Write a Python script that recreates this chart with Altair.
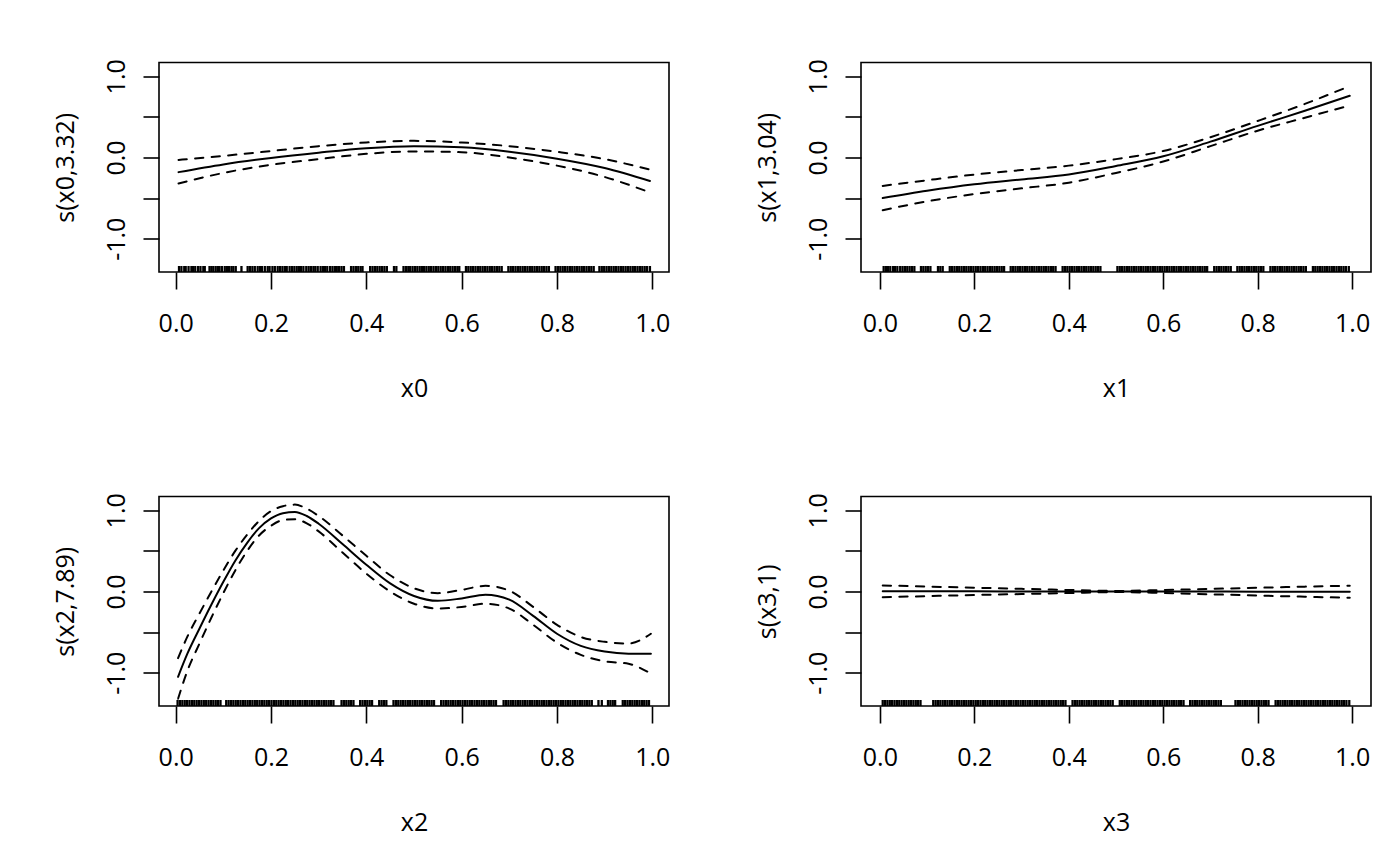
import altair as alt
import pandas as pd

FONT = "Open Sans"
FS = 25

# ---------------- data ----------------
x_ticks = [0.0, 0.2, 0.4, 0.6, 0.8, 1.0]
y_ticks = [-1.0, -0.5, 0.0, 0.5, 1.0]
y_domain = [-1.41, 1.17]

grid11 = [0.006, 0.1, 0.2, 0.3, 0.4, 0.5, 0.6, 0.7, 0.8, 0.9, 0.995]

# s(x0,3.32)
x0_fit = [-0.18, -0.085, -0.005, 0.06, 0.115, 0.14, 0.125, 0.07, -0.015, -0.13, -0.29]
x0_upper = [-0.03, 0.02, 0.08, 0.14, 0.185, 0.205, 0.185, 0.14, 0.07, -0.02, -0.15]
x0_lower = [-0.32, -0.19, -0.09, -0.02, 0.045, 0.075, 0.065, 0.0, -0.1, -0.24, -0.43]

# s(x1,3.04)
x1_fit = [-0.50, -0.41, -0.33, -0.27, -0.21, -0.105, 0.015, 0.195, 0.39, 0.575, 0.76]
x1_upper = [-0.35, -0.28, -0.21, -0.155, -0.10, -0.02, 0.08, 0.25, 0.45, 0.66, 0.88]
x1_lower = [-0.65, -0.54, -0.45, -0.38, -0.31, -0.19, -0.05, 0.14, 0.33, 0.49, 0.64]

# s(x2,7.89)
x2_grid = [0.005, 0.025, 0.05, 0.075, 0.1, 0.125, 0.15, 0.175, 0.2, 0.225, 0.25, 0.275, 0.3,
           0.35, 0.4, 0.45, 0.5, 0.55, 0.6, 0.65, 0.7, 0.75, 0.8, 0.85, 0.9, 0.95, 0.997]
x2_fit = [-1.05, -0.76, -0.455, -0.16, 0.12, 0.38, 0.6, 0.78, 0.9, 0.965, 0.98, 0.93, 0.835,
          0.585, 0.33, 0.10, -0.055, -0.115, -0.085, -0.04, -0.10, -0.30, -0.52, -0.67, -0.74, -0.765, -0.765]
x2_upper = [-0.82, -0.55, -0.27, 0.0, 0.26, 0.5, 0.7, 0.87, 0.99, 1.05, 1.07, 1.02, 0.93,
            0.69, 0.44, 0.2, 0.04, -0.02, 0.02, 0.07, 0.01, -0.19, -0.41, -0.56, -0.62, -0.64, -0.52]
x2_lower = [-1.32, -0.97, -0.64, -0.32, -0.02, 0.26, 0.5, 0.69, 0.81, 0.88, 0.89, 0.84, 0.74,
            0.48, 0.22, 0.0, -0.15, -0.21, -0.19, -0.15, -0.21, -0.41, -0.63, -0.78, -0.86, -0.89, -1.01]

# s(x3,1)
x3_fit = [0.003, 0.002, 0.002, 0.001, 0.0, 0.0, 0.0, -0.001, -0.002, -0.002, -0.003]
x3_upper = [0.075, 0.061, 0.047, 0.033, 0.019, 0.007, 0.018, 0.032, 0.046, 0.06, 0.072]
x3_lower = [-0.07, -0.057, -0.043, -0.031, -0.019, -0.007, -0.018, -0.034, -0.05, -0.064, -0.078]

# rug positions (observed covariate values)
x0_rug = [0.007,0.012,0.018,0.021,0.027,0.033,0.036,0.041,0.047,0.052,0.058,0.061,0.071,0.075,0.079,0.084,0.089,0.092,0.097,0.103,0.108,0.112,0.117,0.121,0.126,0.138,0.151,0.156,0.161,0.166,0.172,0.177,0.181,0.187,0.193,0.197,0.203,0.208,0.214,0.219,0.224,0.229,0.233,0.239,0.244,0.249,0.254,0.259,0.263,0.268,0.274,0.279,0.284,0.289,0.293,0.298,0.304,0.309,0.313,0.318,0.324,0.329,0.334,0.338,0.343,0.348,0.353,0.368,0.373,0.378,0.383,0.388,0.392,0.408,0.413,0.418,0.423,0.428,0.433,0.438,0.443,0.458,0.463,0.478,0.483,0.488,0.492,0.497,0.502,0.507,0.512,0.517,0.521,0.526,0.531,0.536,0.541,0.546,0.551,0.556,0.561,0.566,0.571,0.576,0.581,0.586,0.591,0.595,0.609,0.614,0.619,0.624,0.629,0.634,0.639,0.644,0.649,0.654,0.659,0.664,0.669,0.674,0.679,0.684,0.698,0.703,0.708,0.713,0.718,0.723,0.728,0.733,0.738,0.743,0.748,0.753,0.758,0.763,0.768,0.773,0.778,0.783,0.797,0.802,0.807,0.812,0.817,0.822,0.827,0.832,0.837,0.842,0.847,0.852,0.857,0.862,0.867,0.872,0.877,0.889,0.894,0.899,0.904,0.909,0.914,0.919,0.924,0.929,0.934,0.939,0.944,0.949,0.954,0.959,0.964,0.969,0.974,0.979,0.984,0.989,0.995]
x1_rug = [0.008,0.013,0.017,0.022,0.028,0.032,0.037,0.043,0.048,0.053,0.058,0.063,0.068,0.073,0.087,0.092,0.097,0.102,0.107,0.123,0.128,0.133,0.148,0.153,0.158,0.163,0.168,0.173,0.178,0.183,0.188,0.193,0.198,0.203,0.208,0.213,0.218,0.223,0.228,0.233,0.238,0.243,0.248,0.253,0.258,0.263,0.277,0.282,0.287,0.292,0.297,0.302,0.307,0.312,0.317,0.322,0.327,0.332,0.337,0.342,0.347,0.352,0.357,0.362,0.367,0.372,0.387,0.392,0.397,0.402,0.407,0.412,0.417,0.422,0.427,0.432,0.437,0.442,0.447,0.452,0.457,0.462,0.467,0.503,0.508,0.513,0.518,0.523,0.528,0.533,0.538,0.543,0.548,0.553,0.558,0.563,0.568,0.573,0.578,0.583,0.588,0.593,0.598,0.603,0.608,0.613,0.618,0.623,0.628,0.633,0.638,0.643,0.648,0.653,0.658,0.663,0.668,0.673,0.678,0.683,0.688,0.693,0.708,0.713,0.718,0.723,0.728,0.733,0.738,0.743,0.757,0.762,0.767,0.772,0.777,0.782,0.787,0.792,0.797,0.802,0.807,0.812,0.827,0.832,0.837,0.842,0.847,0.852,0.857,0.862,0.867,0.872,0.877,0.882,0.887,0.892,0.897,0.902,0.917,0.922,0.927,0.932,0.937,0.942,0.947,0.952,0.957,0.962,0.967,0.972,0.977,0.982,0.987,0.993]
x2_rug = [0.004,0.009,0.014,0.019,0.024,0.029,0.034,0.039,0.044,0.049,0.054,0.059,0.064,0.069,0.074,0.079,0.084,0.089,0.094,0.106,0.111,0.116,0.121,0.126,0.131,0.136,0.141,0.146,0.151,0.156,0.161,0.166,0.171,0.176,0.181,0.186,0.191,0.196,0.201,0.206,0.211,0.216,0.221,0.226,0.231,0.236,0.241,0.246,0.251,0.256,0.261,0.266,0.271,0.276,0.281,0.286,0.291,0.296,0.301,0.306,0.311,0.316,0.321,0.326,0.331,0.348,0.353,0.358,0.363,0.368,0.373,0.387,0.392,0.397,0.402,0.407,0.412,0.427,0.432,0.437,0.442,0.457,0.462,0.467,0.472,0.477,0.482,0.487,0.492,0.497,0.502,0.507,0.512,0.517,0.522,0.527,0.532,0.537,0.542,0.557,0.562,0.567,0.572,0.577,0.582,0.587,0.592,0.597,0.602,0.607,0.612,0.617,0.622,0.627,0.632,0.637,0.642,0.647,0.652,0.657,0.662,0.667,0.672,0.688,0.693,0.698,0.703,0.708,0.713,0.718,0.723,0.728,0.733,0.738,0.743,0.748,0.753,0.758,0.763,0.768,0.773,0.778,0.783,0.788,0.793,0.798,0.803,0.808,0.813,0.818,0.823,0.828,0.833,0.838,0.843,0.848,0.853,0.858,0.863,0.868,0.873,0.887,0.894,0.907,0.912,0.917,0.922,0.938,0.943,0.948,0.953,0.958,0.963,0.968,0.973,0.978,0.983,0.988,0.993]
x3_rug = [0.006,0.011,0.016,0.021,0.026,0.031,0.036,0.041,0.046,0.051,0.056,0.061,0.066,0.071,0.076,0.081,0.086,0.113,0.118,0.123,0.128,0.133,0.138,0.143,0.148,0.153,0.158,0.163,0.168,0.173,0.178,0.183,0.188,0.193,0.198,0.203,0.208,0.213,0.218,0.223,0.228,0.233,0.238,0.243,0.248,0.253,0.258,0.263,0.268,0.273,0.278,0.283,0.288,0.293,0.298,0.303,0.308,0.313,0.318,0.323,0.328,0.333,0.338,0.343,0.348,0.353,0.358,0.363,0.368,0.373,0.378,0.383,0.388,0.393,0.408,0.413,0.418,0.423,0.428,0.433,0.438,0.443,0.448,0.453,0.458,0.463,0.468,0.473,0.478,0.483,0.488,0.493,0.508,0.513,0.518,0.523,0.528,0.533,0.538,0.543,0.548,0.553,0.558,0.563,0.568,0.573,0.578,0.583,0.588,0.593,0.598,0.603,0.608,0.613,0.618,0.623,0.628,0.633,0.638,0.643,0.657,0.662,0.667,0.672,0.677,0.682,0.687,0.692,0.697,0.702,0.707,0.712,0.717,0.722,0.753,0.758,0.763,0.768,0.773,0.778,0.783,0.788,0.793,0.798,0.803,0.808,0.813,0.818,0.823,0.838,0.843,0.848,0.853,0.858,0.863,0.868,0.873,0.878,0.883,0.888,0.893,0.898,0.903,0.908,0.913,0.918,0.923,0.928,0.933,0.938,0.943,0.948,0.953,0.958,0.963,0.968,0.973,0.978,0.983,0.988,0.994]

W = 510
H = 209.5

Y_LABELS = ("datum.value == 1 ? '1.0' : datum.value == 0 ? '0.0' : "
            "datum.value == -1 ? '-1.0' : ''")


def panel(xs, fit, up, lo, rug, xlab, ylab, xdom):
    df_fit = pd.DataFrame({"x": xs, "y": fit})
    df_band = pd.DataFrame({"x": list(xs) + list(xs), "y": list(up) + list(lo),
                            "b": ["upper"] * len(xs) + ["lower"] * len(xs)})
    df_rug = pd.DataFrame({"x": rug})

    xscale = alt.Scale(domain=xdom, nice=False, zero=False)
    yscale = alt.Scale(domain=y_domain, nice=False, zero=False)
    xaxis = alt.Axis(title=xlab, values=x_ticks, format=".1f", grid=False, domain=False,
                     tickSize=17, tickWidth=1.6, tickColor="black",
                     labelPadding=22, labelFlush=False, labelOverlap=False,
                     minExtent=65, maxExtent=65, titlePadding=39.4)
    yaxis = alt.Axis(title=ylab, values=y_ticks, labelExpr=Y_LABELS, grid=False, domain=False,
                     tickSize=16, tickWidth=1.6, tickColor="black",
                     labelAngle=-90, labelAlign="center", labelBaseline="bottom",
                     labelPadding=14, labelFlush=False, labelOverlap=False,
                     minExtent=60, maxExtent=60, titlePadding=20.6)
    X = alt.X("x:Q", scale=xscale, axis=xaxis)
    Y = alt.Y("y:Q", scale=yscale, axis=yaxis)

    band = alt.Chart(df_band).mark_line(
        color="black", strokeWidth=2, strokeDash=[8.3, 8.3], strokeCap="round",
        interpolate="monotone"
    ).encode(x=X, y=Y, detail="b:N")
    line = alt.Chart(df_fit).mark_line(
        color="black", strokeWidth=2, strokeCap="round", interpolate="monotone"
    ).encode(x=X, y=Y)
    rugs = alt.Chart(df_rug).mark_rule(color="black", strokeWidth=2.3).encode(
        x=X, y=alt.value(H), y2=alt.value(H - 6)
    )
    return alt.layer(band, line, rugs).properties(width=W, height=H)


p1 = panel(grid11, x0_fit, x0_upper, x0_lower, x0_rug, "x0", "s(x0,3.32)", [-0.035, 1.035])
p2 = panel(grid11, x1_fit, x1_upper, x1_lower, x1_rug, "x1", "s(x1,3.04)", [-0.04, 1.04])
p3 = panel(x2_grid, x2_fit, x2_upper, x2_lower, x2_rug, "x2", "s(x2,7.89)", [-0.035, 1.035])
p4 = panel(grid11, x3_fit, x3_upper, x3_lower, x3_rug, "x3", "s(x3,1)", [-0.04, 1.04])

chart = alt.concat(
    p1, p2, p3, p4, columns=2,
    spacing={"row": 224, "column": 192},
    bounds="flush",
).properties(
    padding={"left": 44, "top": 49.5, "right": 5, "bottom": 5},
    background="white",
).configure_view(
    stroke="black", strokeWidth=1.6, fill="white"
).configure_axis(
    labelFont=FONT, titleFont=FONT, labelFontSize=FS, titleFontSize=FS,
    labelColor="black", titleColor="black", titleFontWeight="normal",
)

chart.save("out.html", embed_options={"renderer": "svg", "actions": False})
